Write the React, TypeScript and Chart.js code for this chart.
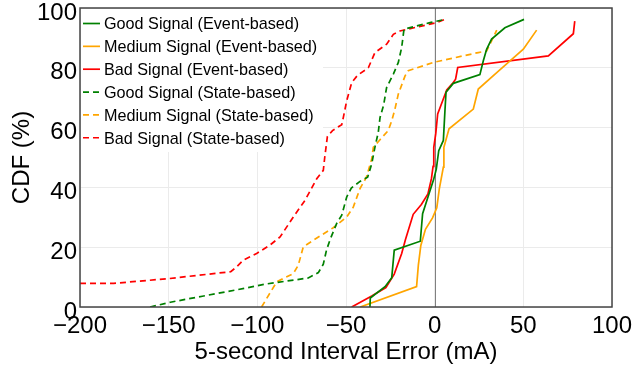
import { useEffect, useRef } from "react";
import { Chart, registerables } from "chart.js";

Chart.register(...registerables);

// CDF of 5-second interval error, per signal quality and estimation method
const goodEventErr = [-36.5, -36.3, -28, -24.2, -22.8, -8.1, -6.8, -3, -0.6, 0.9, 2.3, 4.9, 5.8, 6.4, 10.5, 25.5, 27.4, 29.3, 32.1, 39.6, 50.4];
const goodEventCdf = [0, 3, 6.8, 9.8, 19, 22, 31.2, 38.2, 42.6, 46, 52.3, 55.7, 65.7, 71.8, 74.8, 77.7, 82.3, 86.2, 89.6, 93.4, 96.2];

const mediumEventErr = [-42, -10.2, -9.2, -7.8, -5.2, -1.2, 1.2, 2.6, 4.9, 5.2, 8.1, 21.8, 24.6, 35, 42.5, 50, 57.5];
const mediumEventCdf = [0, 6.8, 14, 20.6, 26, 29.8, 33.2, 39.4, 46.8, 53.4, 59.6, 66.2, 72.9, 78.4, 82.3, 86.2, 92.6];

const badEventErr = [-46.8, -35.5, -27.5, -22.8, -18.6, -16.5, -12.1, -7.5, -3.8, -1.8, -0.9, -0.5, 0.6, 1.7, 4.5, 6.8, 10.5, 11.8, 13, 64.1, 78.2, 79];
const badEventCdf = [0, 3.7, 6.5, 11, 17.9, 22.5, 31, 34.3, 37.8, 43, 47, 53.4, 57.9, 64.6, 69, 72.6, 75.1, 76.2, 80.1, 84, 91.4, 95.6];

const goodStateErr = [-160.5, -149, -131, -112, -95, -89, -71.3, -65.6, -62.8, -61, -59, -55.3, -52.4, -49.6, -47, -42.1, -37.8, -35.5, -33.7, -31.8, -30.8, -28.8, -27.1, -23.3, -20.5, -18.6, -17.3, -10.2, -2.6, 5.8];
const goodStateCdf = [0, 1.6, 3.6, 5.7, 7.7, 8.2, 9.7, 11.5, 14.3, 19, 22.5, 27.9, 30.7, 36.8, 39.8, 42, 43.4, 47.9, 53.4, 58.4, 63.4, 67.5, 73.4, 77.9, 81.8, 86.8, 92.9, 94, 95.1, 96.2];

const mediumStateErr = [-97.6, -89.1, -79.7, -76.9, -74.1, -68.5, -57.2, -49.6, -45.9, -42.1, -38.5, -35.5, -34.6, -31.2, -26.2, -24.2, -22.4, -20.5, -16.7, -14.9, -0.8, 24.6, 29.3, 32.1, 35];
const mediumStateCdf = [0, 8.4, 11.2, 14, 20.1, 22.3, 26.5, 30.1, 33.4, 39.6, 43.4, 49.5, 53.4, 55.7, 59, 62.3, 66.2, 71.2, 77.3, 79, 81.8, 85.1, 85.6, 89, 92.6];

const badStateErr = [-200, -181, -150, -115, -111.7, -107.9, -100.4, -92.9, -87.2, -79.7, -73.1, -66.5, -62.8, -62, -60.5, -57.6, -52.4, -51.5, -49.6, -46.8, -43.5, -37.4, -33.7, -27.1, -23.3, -19.6, -10.2, 1.1, 5.8];
const badStateCdf = [7.9, 7.9, 9.5, 11.8, 13.4, 15.7, 17.9, 20.7, 23.4, 30.1, 35.7, 42.9, 45.7, 50, 57, 59, 61, 63.4, 69, 75, 77.5, 80, 85.1, 87.9, 91.2, 92.3, 93.6, 95.1, 96.2];

const seriesLabels = [
  "Good Signal (Event-based)",
  "Medium Signal (Event-based)",
  "Bad Signal (Event-based)",
  "Good Signal (State-based)",
  "Medium Signal (State-based)",
  "Bad Signal (State-based)",
];
const seriesColors = ["#008000", "#ffa500", "#ff0000", "#008000", "#ffa500", "#ff0000"];

const xMin = -200;
const xMax = 100;
const xStep = 50;
const yMin = 0;
const yMax = 100;
const yStep = 20;

const FONT = "'Liberation Sans', Arial, sans-serif";
const DASH = [6, 4];

const pairs = (xs: number[], ys: number[]) => xs.map((x, i) => ({ x, y: ys[i] }));
const fmtTick = (v: number) => (v < 0 ? "\u2212" + Math.abs(v) : String(v));

// Zero-error reference line, drawn under the curves
const zeroLine = {
  id: "zeroLine",
  beforeDatasetsDraw(chart: any) {
    const { ctx, chartArea, scales } = chart;
    const x = Math.round(scales.x.getPixelForValue(0)) + 0.5;
    ctx.save();
    ctx.strokeStyle = "#808080";
    ctx.lineWidth = 1;
    ctx.beginPath();
    ctx.moveTo(x, chartArea.top);
    ctx.lineTo(x, chartArea.bottom);
    ctx.stroke();
    ctx.restore();
  },
};

// Plot frame and in-axes legend
const frameAndLegend = {
  id: "frameAndLegend",
  afterDatasetsDraw(chart: any) {
    const { ctx, chartArea } = chart;
    ctx.save();
    ctx.strokeStyle = "#444444";
    ctx.lineWidth = 1.5;
    ctx.strokeRect(chartArea.left, chartArea.top, chartArea.right - chartArea.left, chartArea.bottom - chartArea.top);

    const left = chartArea.left + 1;
    const top = chartArea.top + 1;
    ctx.fillStyle = "#ffffff";
    ctx.fillRect(left, top, 242, 143);

    const rowGap = 22.85;
    ctx.font = `16.2px ${FONT}`;
    ctx.textBaseline = "middle";
    ctx.textAlign = "left";
    chart.data.datasets.forEach((ds: any, i: number) => {
      const y = top + 16 + i * rowGap;
      ctx.strokeStyle = ds.borderColor;
      ctx.lineWidth = ds.borderWidth;
      ctx.setLineDash(ds.borderDash || []);
      ctx.beginPath();
      ctx.moveTo(left + 2, y - 1.5);
      ctx.lineTo(left + 19, y - 1.5);
      ctx.stroke();
      ctx.setLineDash([]);
      ctx.fillStyle = "#000000";
      ctx.fillText(ds.label, left + 23, y);
    });
    ctx.restore();
  },
};

export default function App() {
  const canvasRef = useRef<HTMLCanvasElement | null>(null);

  useEffect(() => {
    const canvas = canvasRef.current;
    if (!canvas) return;

    const series = [
      pairs(goodEventErr, goodEventCdf),
      pairs(mediumEventErr, mediumEventCdf),
      pairs(badEventErr, badEventCdf),
      pairs(goodStateErr, goodStateCdf),
      pairs(mediumStateErr, mediumStateCdf),
      pairs(badStateErr, badStateCdf),
    ];

    const chart = new Chart(canvas, {
      type: "scatter",
      data: {
        datasets: series.map((data, i) => ({
          label: seriesLabels[i],
          data,
          showLine: true,
          borderColor: seriesColors[i],
          backgroundColor: seriesColors[i],
          borderWidth: 1.7,
          borderDash: i >= 3 ? DASH : [],
          pointRadius: 0,
          tension: 0,
          fill: false,
        })),
      },
      options: {
        animation: false,
        responsive: false,
        devicePixelRatio: 1,
        layout: { padding: { left: 0, top: 8, right: 20, bottom: 0 } },
        plugins: {
          legend: { display: false },
          tooltip: { enabled: false },
        },
        scales: {
          x: {
            type: "linear",
            min: xMin,
            max: xMax,
            ticks: {
              stepSize: xStep,
              autoSkip: false,
              maxRotation: 0,
              padding: 5,
              color: "#000000",
              font: { family: FONT, size: 24 },
              callback: (v: any) => fmtTick(Number(v)),
            },
            grid: { color: "#ebebeb", lineWidth: 1, drawTicks: false },
            border: { display: false },
            title: {
              display: true,
              text: "5-second Interval Error (mA)",
              color: "#000000",
              font: { family: FONT, size: 24 },
              padding: { top: 0, bottom: 2 },
            },
            afterFit: (s: any) => {
              s.height = 62;
              s.paddingLeft = 0;
              s.paddingRight = 0;
            },
          },
          y: {
            type: "linear",
            min: yMin,
            max: yMax,
            ticks: {
              stepSize: yStep,
              padding: 3,
              labelOffset: 5,
              color: "#000000",
              font: { family: FONT, size: 24 },
              callback: (v: any) => fmtTick(Number(v)),
            },
            grid: { color: "#ebebeb", lineWidth: 1, drawTicks: false },
            border: { display: false },
            title: {
              display: true,
              text: "CDF (%)",
              color: "#000000",
              font: { family: FONT, size: 24 },
              padding: { top: 8, bottom: 0 },
            },
            afterFit: (s: any) => {
              s.width = 80;
              s.paddingTop = 0;
              s.paddingBottom = 0;
            },
          },
        },
      },
      plugins: [zeroLine, frameAndLegend],
    });

    return () => chart.destroy();
  }, []);

  return (
    <div style={{ position: "fixed", left: 0, top: 0, width: 632, height: 369, background: "#ffffff" }}>
      <canvas ref={canvasRef} width={632} height={369} style={{ display: "block" }} />
    </div>
  );
}
